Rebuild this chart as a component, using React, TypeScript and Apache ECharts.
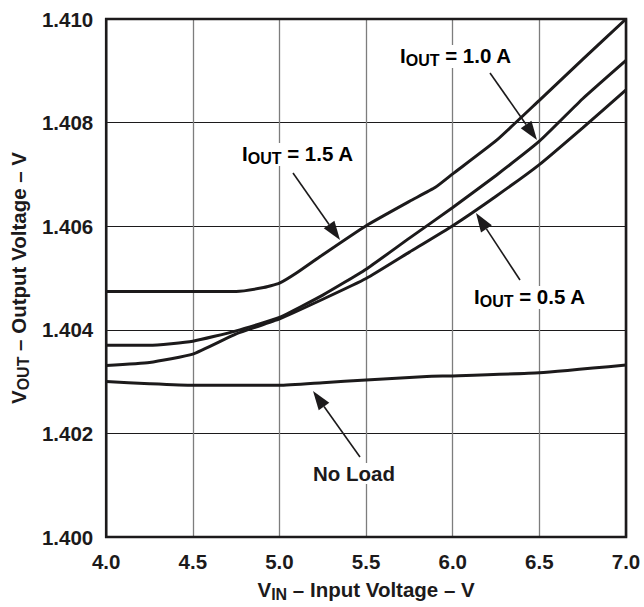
import React, { useEffect, useRef } from "react";
import * as echarts from "echarts";

// ---- data ----
const xTicks = [4.0, 4.5, 5.0, 5.5, 6.0, 6.5, 7.0];
const yTicks = [1.4, 1.402, 1.404, 1.406, 1.408, 1.41];

const noLoadVin = [4.0, 4.25, 4.5, 5.0, 5.25, 5.5, 5.85, 6.0, 6.5, 7.0];
const noLoadVout = [1.403, 1.40296, 1.40293, 1.40293, 1.40298, 1.40303, 1.4031, 1.40311, 1.40317, 1.40332];

const i05Vin = [4.0, 4.25, 4.5, 4.75, 5.0, 5.25, 5.5, 5.75, 6.0, 6.25, 6.5, 6.75, 7.0];
const i05Vout = [1.40331, 1.40337, 1.40353, 1.40392, 1.40421, 1.40459, 1.40499, 1.4055, 1.40601, 1.40658, 1.40719, 1.4079, 1.40863];

const i10Vin = [4.0, 4.25, 4.5, 4.75, 5.0, 5.25, 5.5, 5.75, 6.0, 6.25, 6.5, 6.75, 7.0];
const i10Vout = [1.4037, 1.4037, 1.40378, 1.40398, 1.40424, 1.40467, 1.40517, 1.40577, 1.40636, 1.40698, 1.40764, 1.40846, 1.4092];

const i15Vin = [4.0, 4.75, 4.9, 5.0, 5.1, 5.25, 5.5, 5.75, 5.9, 6.0, 6.25, 6.5, 6.75, 7.0];
const i15Vout = [1.40474, 1.40474, 1.40481, 1.4049, 1.4051, 1.40545, 1.40601, 1.40648, 1.40675, 1.40701, 1.40765, 1.40843, 1.40922, 1.41];

const seriesNames = ["No Load", "IOUT = 0.5 A", "IOUT = 1.0 A", "IOUT = 1.5 A"];

const zip = (xs: number[], ys: number[]) => xs.map((x, i) => [x, ys[i]]);

const FONT = "'Liberation Sans', Arial, Helvetica, sans-serif";
const INK = "#1c1a1b";
const MAIN = 20.5;
const SUB = 16;

function arrow(x1: number, y1: number, x2: number, y2: number) {
  const dx = x2 - x1;
  const dy = y2 - y1;
  const len = Math.sqrt(dx * dx + dy * dy);
  const ux = dx / len;
  const uy = dy / len;
  const hl = 19;
  const hw = 6.5;
  const bx = x2 - ux * hl;
  const by = y2 - uy * hl;
  return [
    {
      type: "line",
      shape: { x1, y1, x2: bx, y2: by },
      style: { stroke: INK, lineWidth: 1.6 },
      z: 100,
    },
    {
      type: "polygon",
      shape: {
        points: [
          [x2, y2],
          [bx - uy * hw, by + ux * hw],
          [bx + uy * hw, by - ux * hw],
        ],
      },
      style: { fill: INK },
      z: 100,
    },
  ];
}

const subRich = {
  v: { fontSize: MAIN, fontWeight: "bold", fontFamily: FONT, color: INK, lineHeight: 23, verticalAlign: "top" },
  s: { fontSize: SUB, fontWeight: "bold", fontFamily: FONT, color: INK, lineHeight: 23, verticalAlign: "bottom", padding: [7, 0, 0, 0] },
};

function ioutLabel(left: number, cy: number, rest: string) {
  return {
    type: "text",
    left,
    top: cy - 12,
    z: 90,
    style: {
      text: `{v|I}{s|OUT}{v|${rest}}`,
      rich: subRich,
      backgroundColor: "#fff",
      padding: [0, 3, 0, 3],
    },
  };
}

export default function App() {
  const ref = useRef<HTMLDivElement>(null);
  useEffect(() => {
    if (!ref.current) return;
    const chart = echarts.init(ref.current, undefined, { renderer: "svg" });
    const lineSeries = (name: string, data: number[][]) => ({
      name,
      type: "line",
      data,
      showSymbol: false,
      symbol: "none",
      smooth: 0.15,
      lineStyle: { color: INK, width: 3 },
      z: 5,
    });
    chart.setOption({
      animation: false,
      backgroundColor: "#fff",
      grid: {
        left: 104,
        top: 19,
        width: 522,
        height: 521,
        show: true,
        borderColor: INK,
        borderWidth: 2.6,
        z: 10,
      },
      xAxis: {
        type: "value",
        min: 4.0,
        max: 7.0,
        interval: 0.5,
        axisLine: { show: false },
        axisTick: { show: false },
        splitLine: { show: true, lineStyle: { color: "#7d7d7d", width: 1.3 } },
        axisLabel: {
          margin: 14,
          fontSize: MAIN,
          fontWeight: "bold",
          fontFamily: FONT,
          color: INK,
          formatter: (v: number) => v.toFixed(1),
        },
        name: "{v|V}{s|IN}{v| – Input Voltage – V}",
        nameLocation: "middle",
        nameGap: 42,
        nameTextStyle: { rich: subRich },
      },
      yAxis: {
        type: "value",
        min: 1.4,
        max: 1.41,
        interval: 0.002,
        axisLine: { show: false },
        axisTick: { show: false },
        splitLine: { show: true, lineStyle: { color: INK, width: 1.2 } },
        axisLabel: {
          margin: 13,
          fontSize: MAIN,
          fontWeight: "bold",
          fontFamily: FONT,
          color: INK,
          formatter: (v: number) => v.toFixed(3),
        },
        name: "{v|V}{s|OUT}{v| – Output Voltage – V}",
        nameLocation: "middle",
        nameRotate: 90,
        nameGap: 74,
        nameTextStyle: { rich: subRich },
      },
      series: [
        lineSeries(seriesNames[0], zip(noLoadVin, noLoadVout)),
        lineSeries(seriesNames[1], zip(i05Vin, i05Vout)),
        lineSeries(seriesNames[2], zip(i10Vin, i10Vout)),
        lineSeries(seriesNames[3], zip(i15Vin, i15Vout)),
      ],
      graphic: [
        ioutLabel(397, 57, " = 1.0 A"),
        ioutLabel(239, 155, " = 1.5 A"),
        ioutLabel(471, 298, " = 0.5 A"),
        {
          type: "text",
          left: 310,
          top: 463,
          z: 90,
          style: {
            text: "No Load",
            font: `bold ${MAIN}px ${FONT}`,
            fill: INK,
            backgroundColor: "#fff",
            padding: [0, 3, 0, 3],
          },
        },
        ...arrow(490, 73, 537, 140),
        ...arrow(293, 173, 340, 240),
        ...arrow(520, 280, 476, 213),
        ...arrow(360, 457, 313, 391),
      ],
    });
    return () => chart.dispose();
  }, []);
  return (
    <div
      ref={ref}
      style={{ position: "fixed", left: 0, top: 0, width: 644, height: 607, background: "#fff" }}
    />
  );
}
